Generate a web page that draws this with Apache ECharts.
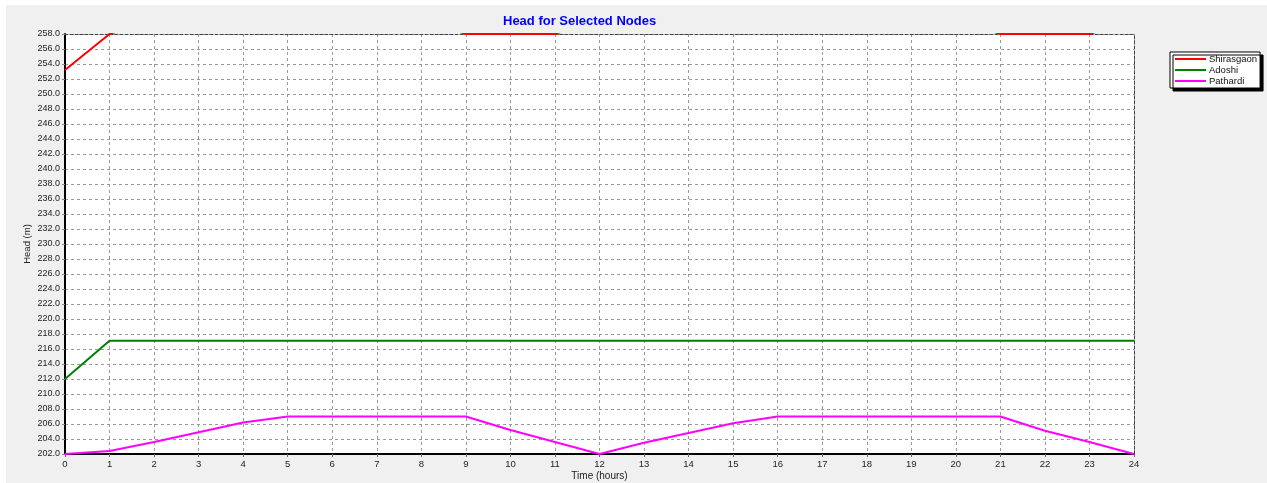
<!DOCTYPE html>
<html>
<head>
<meta charset="utf-8">
<script src="https://cdn.jsdelivr.net/npm/echarts@6/dist/echarts.min.js"></script>
<style>
html,body{margin:0;padding:0;background:#fff;width:1267px;height:483px;overflow:hidden;}
#c{position:absolute;left:6px;top:5px;width:1261px;height:478px;}
</style>
</head>
<body>
<div id="c"></div>
<script>
const hours = ['0','1','2','3','4','5','6','7','8','9','10','11','12','13','14','15','16','17','18','19','20','21','22','23','24'];
// Shirasgaon goes above the 258 m top of the axis for most hours (clipped, as in the reference)
const shirasgaon = [253.2, 258.0, 260.0, 260.0, 260.0, 260.0, 260.0, 260.0, 260.0, 258.0, 258.0, 258.0, 260.0, 260.0, 260.0, 260.0, 260.0, 260.0, 260.0, 260.0, 260.0, 258.0, 258.0, 258.0, 260.0];
const adoshi = [212.0, 217.1, 217.1, 217.1, 217.1, 217.1, 217.1, 217.1, 217.1, 217.1, 217.1, 217.1, 217.1, 217.1, 217.1, 217.1, 217.1, 217.1, 217.1, 217.1, 217.1, 217.1, 217.1, 217.1, 217.1];
const pathardi = [202.0, 202.4, 203.6, 204.9, 206.2, 207.0, 207.0, 207.0, 207.0, 207.0, 205.2, 203.6, 202.0, 203.5, 204.8, 206.1, 207.0, 207.0, 207.0, 207.0, 207.0, 207.0, 205.1, 203.6, 202.0];
const yMin = 202, yMax = 258, yStep = 2;

const FONT = 'Liberation Sans, Arial, sans-serif';
const chart = echarts.init(document.getElementById('c'), null, {renderer: 'canvas'});
chart.setOption({
  backgroundColor: '#f0f0f0',
  animation: false,
  title: {
    text: 'Head for Selected Nodes',
    left: 497, top: 10, padding: 0,
    textStyle: {color: '#0000ff', fontSize: 13, fontWeight: 'bold', fontFamily: FONT}
  },
  legend: {
    orient: 'vertical', left: 1164, top: 47,
    padding: [2, 3, 2, 4], itemGap: 1, itemWidth: 31, itemHeight: 10,
    backgroundColor: '#fff', borderColor: '#000', borderWidth: 1,
    shadowColor: '#000', shadowBlur: 0, shadowOffsetX: 3, shadowOffsetY: 3,
    align: 'left',
    itemStyle: {opacity: 0},
    textStyle: {fontSize: 9.5, color: '#111', fontFamily: FONT, padding: [0,0,0,-2]},
    data: ['Shirasgaon', 'Adoshi', 'Pathardi']
  },
  grid: {left: 59, top: 29, width: 1069, height: 420, show: true, backgroundColor: '#fff', borderWidth: 0,
         containLabel: false, outerBoundsMode: 'none'},
  xAxis: [{
    type: 'category', data: hours, boundaryGap: false,
    name: 'Time (hours)', nameLocation: 'middle', nameGap: 17, nameMoveOverlap: false,
    nameTextStyle: {fontSize: 10, color: '#222', fontFamily: FONT},
    axisLine: {lineStyle: {color: '#000', width: 2, type: [3, 1]}},
    axisTick: {show: true, length: 3, lineStyle: {color: '#666'}},
    axisLabel: {fontSize: 9.5, color: '#222', margin: 5, fontFamily: FONT, interval: 0},
    splitLine: {show: true, lineStyle: {color: '#9a9a9a', width: 1, type: [3, 3]}}
  }, {
    type: 'category', data: hours, boundaryGap: false, position: 'top',
    axisLine: {show: true, lineStyle: {color: '#444', width: 1, type: [3, 2]}},
    axisTick: {show: false}, axisLabel: {show: false}, splitLine: {show: false}
  }],
  yAxis: [{
    type: 'value', min: yMin, max: yMax, interval: yStep,
    name: 'Head (m)', nameLocation: 'middle', nameGap: 33, nameRotate: 90, nameMoveOverlap: false,
    nameTextStyle: {fontSize: 9.5, color: '#222', fontFamily: FONT},
    axisLine: {show: true, lineStyle: {color: '#000', width: 2}},
    axisTick: {show: true, length: 3, lineStyle: {color: '#888'}},
    axisLabel: {fontSize: 9, color: '#222', margin: 5, fontFamily: FONT,
      formatter: v => v.toFixed(1)},
    splitLine: {show: true, lineStyle: {color: '#9a9a9a', width: 1, type: [3, 3]}}
  }, {
    type: 'value', min: yMin, max: yMax, interval: yStep, position: 'right',
    axisLine: {show: true, lineStyle: {color: '#444', width: 1, type: [3, 2]}},
    axisTick: {show: false}, axisLabel: {show: false}, splitLine: {show: false}
  }],
  series: [
    {name: 'Shirasgaon', type: 'line', data: shirasgaon, symbol: 'none', showSymbol: false, clip: true,
     lineStyle: {color: '#ff0000', width: 2}, itemStyle: {color: '#ff0000'}},
    {name: 'Adoshi', type: 'line', data: adoshi, symbol: 'none', showSymbol: false, clip: true,
     lineStyle: {color: '#008000', width: 2}, itemStyle: {color: '#008000'}},
    {name: 'Pathardi', type: 'line', data: pathardi, symbol: 'none', showSymbol: false, clip: true,
     lineStyle: {color: '#ff00ff', width: 2}, itemStyle: {color: '#ff00ff'}}
  ]
});
</script>
</body>
</html>
